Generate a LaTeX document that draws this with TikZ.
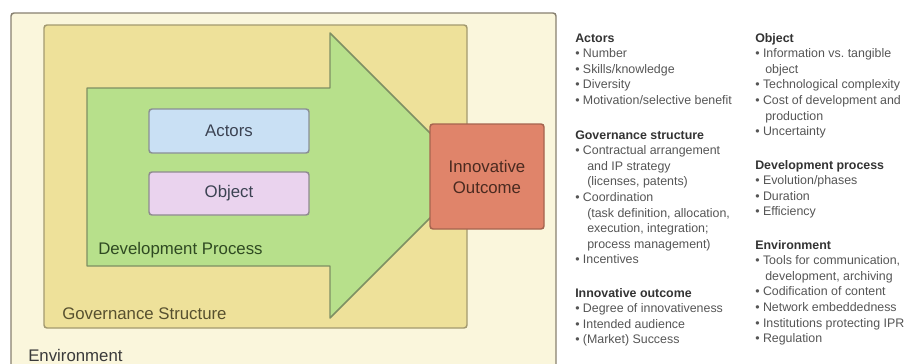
\documentclass[tikz,border=0pt]{standalone}
\usepackage{fontspec}
\setmainfont{Liberation Sans}
\definecolor{envfill}{HTML}{FAF6DC}
\definecolor{envline}{HTML}{878070}
\definecolor{govfill}{HTML}{EEE19A}
\definecolor{govline}{HTML}{A39A70}
\definecolor{arrfill}{HTML}{B7E08B}
\definecolor{arrline}{HTML}{7E8F63}
\definecolor{actfill}{HTML}{C9E0F4}
\definecolor{actline}{HTML}{8A8F95}
\definecolor{objfill}{HTML}{EAD3EE}
\definecolor{objline}{HTML}{8F8A90}
\definecolor{outfill}{HTML}{E0846A}
\definecolor{outline}{HTML}{A5644F}
\definecolor{boxtxt}{HTML}{3B4252}
\definecolor{devtxt}{HTML}{2F4A22}
\definecolor{govtxt}{HTML}{57502F}
\definecolor{envtxt}{HTML}{3A3A3A}
\definecolor{outtxt}{HTML}{4A2A20}
\definecolor{hdtxt}{HTML}{333333}
\definecolor{ittxt}{HTML}{555555}
\newcommand\bul{\makebox[5.8pt][l]{•}}
\newcommand\contL{\hspace*{9pt}}
\newcommand\contR{\hspace*{7.5pt}}
\begin{document}
\begin{tikzpicture}[x=0.75pt,y=-0.75pt,
  bigfont/.style={font=\fontsize{12.6pt}{15.75pt}\selectfont},
  frame/.style={line width=1.1pt,rounded corners=2.25pt},
  hd/.style={anchor=base west,inner sep=0pt,text=hdtxt,font=\fontsize{9.3pt}{11.5pt}\selectfont\bfseries},
  it/.style={anchor=base west,inner sep=0pt,text=ittxt,font=\fontsize{9.3pt}{11.5pt}\selectfont}]
\useasboundingbox (0,0) rectangle (907,364);
\clip (0,0) rectangle (907,364);
% environment
\draw[frame,fill=envfill,draw=envline] (11,13) rectangle (556,385);
% governance
\draw[frame,fill=govfill,draw=govline] (44,25) rectangle (467,328);
% development process arrow
\draw[line width=1.1pt,fill=arrfill,draw=arrline,line join=round]
  (87,88) -- (330,88) -- (330,33) -- (472.5,175.5) -- (330,318) -- (330,266) -- (87,266) -- cycle;
% inner boxes
\node[frame,draw=actline,fill=actfill,minimum width=160*0.75pt,minimum height=44*0.75pt,
  text=boxtxt,bigfont,inner sep=0pt] (actors) at (229,131) {Actors};
\node[frame,draw=objline,fill=objfill,minimum width=160*0.75pt,minimum height=43*0.75pt,
  text=boxtxt,bigfont,inner sep=0pt] (object) at (229,193.5) {Object};
\node[frame,draw=outline,fill=outfill,minimum width=114*0.75pt,minimum height=105*0.75pt,
  text=outtxt,bigfont,align=center,inner sep=0pt] (outcome) at (487,176.5) {Innovative\\Outcome};
% labels
\node[bigfont,text=devtxt,anchor=west,inner sep=0pt] (devlbl) at (98,250) {Development Process};
\node[bigfont,text=govtxt,anchor=west,inner sep=0pt] (govlbl) at (62,314) {Governance Structure};
\node[bigfont,text=envtxt,anchor=west,inner sep=0pt] (envlbl) at (28,355) {Environment};
% left list
\node[hd] (la0) at (575,42) {Actors};
\node[it] (la1) at (575,57.6) {\bul Number};
\node[it] (la2) at (575,73.2) {\bul Skills/knowledge};
\node[it] (la3) at (575,88.8) {\bul Diversity};
\node[it] (la4) at (575,104.4) {\bul Motivation/selective benefit};
\node[hd] (lg0) at (575,139) {Governance structure};
\node[it] (lg1) at (575,154.6) {\bul Contractual arrangement};
\node[it] (lg2) at (575,170.2) {\contL and IP strategy};
\node[it] (lg3) at (575,185.8) {\contL (licenses, patents)};
\node[it] (lg4) at (575,201.4) {\bul Coordination};
\node[it] (lg5) at (575,217) {\contL (task definition, allocation,};
\node[it] (lg6) at (575,232.6) {\contL execution, integration;};
\node[it] (lg7) at (575,248.2) {\contL process management)};
\node[it] (lg8) at (575,263.8) {\bul Incentives};
\node[hd] (li0) at (575,297) {Innovative outcome};
\node[it] (li1) at (575,312.6) {\bul Degree of innovativeness};
\node[it] (li2) at (575,328.2) {\bul Intended audience};
\node[it] (li3) at (575,343.8) {\bul (Market) Success};
% right list
\node[hd] (ro0) at (755,42) {Object};
\node[it] (ro1) at (755,57.6) {\bul Information vs.\ tangible};
\node[it] (ro2) at (755,73.2) {\contR object};
\node[it] (ro3) at (755,88.8) {\bul Technological complexity};
\node[it] (ro4) at (755,104.4) {\bul Cost of development and};
\node[it] (ro5) at (755,120) {\contR production};
\node[it] (ro6) at (755,135.6) {\bul Uncertainty};
\node[hd] (rd0) at (755,169) {Development process};
\node[it] (rd1) at (755,184.6) {\bul Evolution/phases};
\node[it] (rd2) at (755,200.2) {\bul Duration};
\node[it] (rd3) at (755,215.8) {\bul Efficiency};
\node[hd] (re0) at (755,249) {Environment};
\node[it] (re1) at (755,264.6) {\bul Tools for communication,};
\node[it] (re2) at (755,280.2) {\contR development, archiving};
\node[it] (re3) at (755,295.8) {\bul Codification of content};
\node[it] (re4) at (755,311.4) {\bul Network embeddedness};
\node[it] (re5) at (755,327) {\bul Institutions protecting IPR};
\node[it] (re6) at (755,342.6) {\bul Regulation};
\end{tikzpicture}
\end{document}
